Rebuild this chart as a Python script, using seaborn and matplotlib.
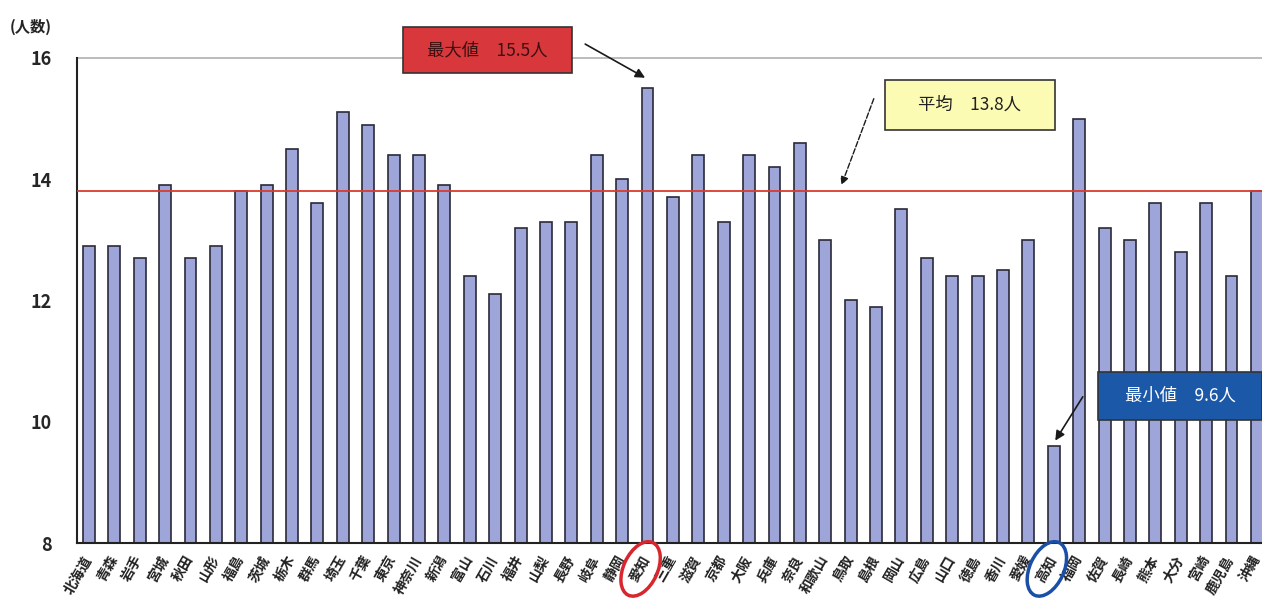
import matplotlib
matplotlib.use("Agg")
import matplotlib.pyplot as plt
import matplotlib.patches as mpatches
import seaborn as sns
import pandas as pd

prefs = ["北海道", "青森", "岩手", "宮城", "秋田", "山形", "福島", "茨城", "栃木", "群馬",
         "埼玉", "千葉", "東京", "神奈川", "新潟", "富山", "石川", "福井", "山梨", "長野",
         "岐阜", "静岡", "愛知", "三重", "滋賀", "京都", "大阪", "兵庫", "奈良", "和歌山",
         "鳥取", "島根", "岡山", "広島", "山口", "徳島", "香川", "愛媛", "高知", "福岡",
         "佐賀", "長崎", "熊本", "大分", "宮崎", "鹿児島", "沖縄"]
ninzu = [12.9, 12.9, 12.7, 13.9, 12.7, 12.9, 13.8, 13.9, 14.5, 13.6,
         15.1, 14.9, 14.4, 14.4, 13.9, 12.4, 12.1, 13.2, 13.3, 13.3,
         14.4, 14.0, 15.5, 13.7, 14.4, 13.3, 14.4, 14.2, 14.6, 13.0,
         12.0, 11.9, 13.5, 12.7, 12.4, 12.4, 12.5, 13.0, 9.6, 15.0,
         13.2, 13.0, 13.6, 12.8, 13.6, 12.4, 13.8]
heikin = 13.8
yticks = [8, 10, 12, 14, 16]

df = pd.DataFrame({"都道府県": prefs, "人数": ninzu})

sns.set_style("white")
plt.rcParams['font.family'] = ['Noto Sans CJK JP', 'DejaVu Sans']

fig = plt.figure(figsize=(12.62, 6.03), dpi=100)
ax = fig.add_axes([0.061, 0.0995, 0.939, 0.8045])

sns.barplot(data=df, x="都道府県", y="人数", color="#9ea5d8", width=0.47,
            edgecolor="#2a2a3a", linewidth=1.2, saturation=1, ax=ax)

ax.set_ylim(8, 16)
ax.set_xlim(-0.47, 46.2)
ax.set_yticks(yticks)
ax.set_yticklabels([str(t) for t in yticks], fontsize=13, fontweight='bold')
ax.set_xlabel("")
ax.set_ylabel("")

# 平均線と上端の線
ax.axhline(heikin, color="#d93a2e", lw=1.3, zorder=3)
ax.axhline(16, color="#b0b0b0", lw=1.2, zorder=1, clip_on=False)

for s in ["top", "right"]:
    ax.spines[s].set_visible(False)
ax.spines["left"].set_color("#222222")
ax.spines["bottom"].set_color("#222222")
ax.spines["left"].set_linewidth(1.5)
ax.spines["bottom"].set_linewidth(1.5)

ax.tick_params(axis='y', direction='in', length=5, width=1.2, pad=18)
ax.set_xticks(range(len(prefs)))
ax.set_xticklabels(prefs, rotation=60, ha='right', va='center', rotation_mode='anchor',
                   fontsize=10, fontweight='bold', color="#222222")
ax.tick_params(axis='x', length=0, pad=10)
# 棒の間の小さな目盛り
ax.set_xticks([i + 0.5 for i in range(len(prefs) - 1)], minor=True)
ax.tick_params(axis='x', which='minor', direction='in', length=4, width=1)

fig.text(0.008, 0.955, "(人数)", fontsize=11, fontweight='bold', ha='left', va='center')

# 注記ボックス
def box(x0, y0, w, h, face, label, tcolor):
    r = mpatches.Rectangle((x0 / 1262, 1 - (y0 + h) / 603), w / 1262, h / 603,
                           transform=fig.transFigure, facecolor=face,
                           edgecolor="#333333", lw=1.2, zorder=5)
    fig.patches.append(r)
    fig.text((x0 + w / 2) / 1262, 1 - (y0 + h / 2) / 603, label, fontsize=12.5,
             color=tcolor, ha='center', va='center', zorder=6)

box(403, 27, 169, 46, "#d8383c", "最大値　15.5人", "#3a1010")
box(885, 80, 170, 50, "#fbfbb4", "平均　13.8人", "#222222")
box(1098, 372, 164, 48, "#1c58a8", "最小値　9.6人", "white")

i_max = ninzu.index(max(ninzu))
i_min = ninzu.index(min(ninzu))
arrow = dict(arrowstyle="-|>", color="#1a1a1a", lw=1.2, mutation_scale=14)
ax.annotate("", xy=(i_max, max(ninzu) + 0.15), xytext=(19.45, 16.25),
            arrowprops=arrow, annotation_clip=False)
ax.annotate("", xy=(29.6, heikin + 0.06), xytext=(30.95, 15.37),
            arrowprops=dict(arrowstyle="-|>", color="#1a1a1a", lw=1.0,
                            mutation_scale=12, linestyle=(0, (4, 1.5))),
            annotation_clip=False)
ax.annotate("", xy=(i_min, min(ninzu) + 0.05), xytext=(39.2, 10.45),
            arrowprops=arrow, annotation_clip=False)

# ラベルを囲む楕円
fig.canvas.draw()
renderer = fig.canvas.get_renderer()
labels = ax.get_xticklabels()
for idx, col in [(i_max, "#d8262e"), (i_min, "#1a4fa8")]:
    bb = labels[idx].get_window_extent(renderer)
    cx, cy = (bb.x0 + bb.x1) / 2, (bb.y0 + bb.y1) / 2
    e = mpatches.Ellipse((cx, cy), 34, 58, angle=-25, fill=False,
                         edgecolor=col, lw=2.5, transform=None, zorder=7)
    fig.patches.append(e)

fig.savefig("out.png", dpi=100)
